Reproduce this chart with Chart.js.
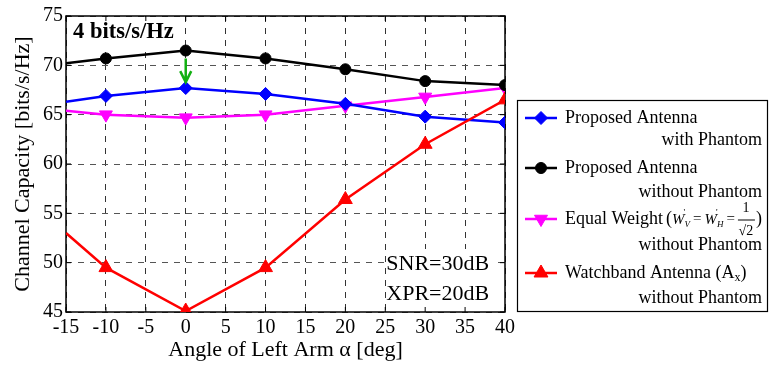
<!DOCTYPE html>
<html>
<head>
<meta charset="utf-8">
<script src="https://cdn.jsdelivr.net/npm/chart.js@4.4.0/dist/chart.umd.min.js"></script>
<style>
  html, body { margin: 0; padding: 0; background: #fff; }
  #wrap { width: 769px; height: 367px; position: relative; }
</style>
</head>
<body>
<div id="wrap"><canvas id="c"></canvas></div>
<script>
const FONT = '"Liberation Serif", "Times New Roman", serif';

// data
const angles = [-15, -10, 0, 10, 20, 30, 40];
const withPhantom    = [66.3, 66.9, 67.7, 67.1, 66.1, 64.8, 64.2];
const withoutPhantom = [70.2, 70.7, 71.5, 70.7, 69.6, 68.4, 68.0];
const equalWeight    = [65.4, 65.0, 64.7, 65.0, 65.9, 66.8, 67.7];
const watchband      = [53.0, 49.5, 45.1, 49.5, 56.4, 62.0, 66.5];

const xTicks = [-15, 40, 5];   // min, max, step
const yTicks = [45, 75, 5];

const legendFirst  = ['Proposed Antenna', 'Proposed Antenna', 'Equal Weight', 'Watchband Antenna'];
const legendSecond = ['with Phantom', 'without Phantom', 'without Phantom', 'without Phantom'];

const arrowAt = [0, 70.7, 68.3];   // x, y from, y to (green arrow)

const series = [
  { vals: withPhantom,    color: '#0000ff', style: 'rectRot',  r: 6.5, rot: 0 },
  { vals: withoutPhantom, color: '#000000', style: 'circle',   r: 5.5, rot: 0 },
  { vals: equalWeight,    color: '#ff00ff', style: 'triangle', r: 7.5, rot: 180 },
  { vals: watchband,      color: '#ff0000', style: 'triangle', r: 8,   rot: 0 }
];

function mkSet(s, i) {
  return {
    label: legendFirst[i],
    data: angles.map((a, k) => ({ x: a, y: s.vals[k] })),
    borderColor: s.color, backgroundColor: s.color,
    pointBackgroundColor: s.color, pointBorderColor: s.color,
    borderWidth: 2.5, tension: 0,
    pointStyle: s.style, pointRotation: s.rot,
    pointRadius: angles.map((a, k) => k === 0 ? 0 : s.r), pointBorderWidth: 1,
    pointHoverRadius: 0
  };
}

// first dataset in array is drawn on top
const drawOrder = [3, 1, 0, 2];
const datasets = drawOrder.map(i => mkSet(series[i], i));

function marker(ctx, s, x, y) {
  ctx.save();
  ctx.fillStyle = s.color; ctx.strokeStyle = s.color; ctx.lineWidth = 1;
  ctx.beginPath();
  if (s.style === 'circle') {
    ctx.arc(x, y, s.r, 0, Math.PI * 2);
  } else if (s.style === 'rectRot') {
    ctx.moveTo(x, y - s.r); ctx.lineTo(x + s.r, y); ctx.lineTo(x, y + s.r); ctx.lineTo(x - s.r, y);
  } else {
    const d = s.rot ? -1 : 1;
    ctx.moveTo(x, y - d * s.r);
    ctx.lineTo(x + s.r * 0.866, y + d * s.r * 0.5);
    ctx.lineTo(x - s.r * 0.866, y + d * s.r * 0.5);
  }
  ctx.closePath(); ctx.fill(); ctx.stroke();
  ctx.restore();
}

function txt(ctx, t, x, y, font, align) {
  ctx.font = font; ctx.textAlign = align || 'left';
  ctx.fillText(t, x, y);
  return ctx.measureText(t).width;
}

const decor = {
  id: 'decor',
  beforeDatasetsDraw(chart) {
    const { ctx, chartArea: a, scales: { x, y } } = chart;
    ctx.save();
    // white boxes behind the text notes (they hide the grid)
    ctx.fillStyle = '#fff';
    ctx.fillRect(a.left + 1, a.top + 1, 114, 30);
    ctx.fillRect(x.getPixelForValue(25) + 1, 249, 111, a.bottom - 249);
    ctx.strokeStyle = '#000'; ctx.lineWidth = 1.5;
    ctx.strokeRect(a.left, a.top, a.width, a.height);
    // inner tick marks
    ctx.lineWidth = 1;
    ctx.beginPath();
    for (let v = xTicks[0]; v <= xTicks[1]; v += xTicks[2]) {
      const px = x.getPixelForValue(v);
      ctx.moveTo(px, a.bottom); ctx.lineTo(px, a.bottom - 5);
      ctx.moveTo(px, a.top); ctx.lineTo(px, a.top + 5);
    }
    for (let v = yTicks[0]; v <= yTicks[1]; v += yTicks[2]) {
      const py = y.getPixelForValue(v);
      ctx.moveTo(a.left, py); ctx.lineTo(a.left + 5, py);
      ctx.moveTo(a.right, py); ctx.lineTo(a.right - 5, py);
    }
    ctx.stroke();
    ctx.restore();
  },
  afterDraw(chart) {
    const { ctx, chartArea: a, scales: { x, y } } = chart;
    ctx.save();
    ctx.fillStyle = '#000';
    ctx.textBaseline = 'middle';

    // annotations
    txt(ctx, '4 bits/s/Hz', a.left + 7, 32, 'bold 22.5px ' + FONT);
    txt(ctx, 'SNR=30dB', x.getPixelForValue(25) + 1, 264, '22px ' + FONT);
    txt(ctx, 'XPR=20dB', x.getPixelForValue(25) + 1, 294, '22px ' + FONT);

    // green arrow
    const ax = x.getPixelForValue(arrowAt[0]);
    const y0 = y.getPixelForValue(arrowAt[1]), y1 = y.getPixelForValue(arrowAt[2]);
    ctx.strokeStyle = '#12b012'; ctx.lineWidth = 2.5;
    ctx.beginPath();
    ctx.moveTo(ax, y0); ctx.lineTo(ax, y1);
    ctx.moveTo(ax - 5.5, y1 - 11); ctx.lineTo(ax, y1); ctx.lineTo(ax + 5.5, y1 - 11);
    ctx.stroke();

    // legend box
    const L = 517, T = 100, R = 768, B = 312;
    ctx.fillStyle = '#fff'; ctx.fillRect(L, T, R - L, B - T);
    ctx.strokeStyle = '#000'; ctx.lineWidth = 1.2;
    ctx.strokeRect(L + 0.5, T + 0.5, R - L - 1, B - T - 1);
    ctx.fillStyle = '#000';
    const rowY = [118, 168, 219, 273];
    const row2Y = [140, 192, 245, 298];
    const lf = '18px ' + FONT;
    series.forEach((s, i) => {
      const ry = rowY[i];
      ctx.strokeStyle = s.color; ctx.lineWidth = 2.5;
      ctx.beginPath(); ctx.moveTo(525, ry); ctx.lineTo(557, ry); ctx.stroke();
      marker(ctx, s, 541, ry);
      ctx.fillStyle = '#000';
      let px = 565;
      px += txt(ctx, legendFirst[i], px, ry, lf);
      if (i === 2) {
        const mi = 'italic 15px ' + FONT, ms = '9px ' + FONT, mis = 'italic 9px ' + FONT, mr = '15px ' + FONT;
        px += 3;
        px += txt(ctx, '(', px, ry, lf);
        px += txt(ctx, 'W', px, ry + 1, mi);
        txt(ctx, "'", px - 1, ry - 6, ms);
        px += txt(ctx, 'V', px, ry + 6, mis) + 3;
        px += txt(ctx, '=', px, ry, mr) + 3;
        px += txt(ctx, 'W', px, ry + 1, mi);
        txt(ctx, "'", px - 1, ry - 6, ms);
        px += txt(ctx, 'H', px, ry + 6, mis) + 3;
        px += txt(ctx, '=', px, ry, mr) + 2;
        // fraction 1/sqrt2
        txt(ctx, '1', px + 9, ry - 11, '14px ' + FONT, 'center');
        ctx.strokeStyle = '#000'; ctx.lineWidth = 1;
        ctx.beginPath(); ctx.moveTo(px + 1, ry + 1); ctx.lineTo(px + 18, ry + 1); ctx.stroke();
        txt(ctx, '√2', px + 9, ry + 12, '14px ' + FONT, 'center');
        px += 19;
        txt(ctx, ')', px, ry, lf);
      } else if (i === 3) {
        px += txt(ctx, ' (A', px, ry, lf);
        px += txt(ctx, 'x', px, ry + 5, '12px ' + FONT);
        txt(ctx, ')', px, ry, lf);
      }
      txt(ctx, legendSecond[i], 762, row2Y[i], lf, 'right');
    });
    ctx.restore();
  }
};

new Chart(document.getElementById('c'), {
  type: 'line',
  data: { datasets },
  options: {
    responsive: true, maintainAspectRatio: false, animation: false,
    events: [],
    layout: { padding: { left: 0, right: 264, top: 16, bottom: 0 } },
    plugins: { legend: { display: false }, tooltip: { enabled: false } },
    scales: {
      x: {
        type: 'linear', min: xTicks[0], max: xTicks[1],
        ticks: { stepSize: xTicks[2], padding: 4, autoSkip: false, maxRotation: 0, color: '#000', font: { family: FONT, size: 20 } },
        grid: { color: '#333', lineWidth: 1, drawTicks: false },
        border: { display: false, dash: [6, 6] },
        title: { display: true, text: 'Angle of Left Arm α [deg]', color: '#000', font: { family: FONT, size: 22 }, padding: { top: 0, bottom: 4 } },
        afterFit: s => { s.height = 55; }
      },
      y: {
        min: yTicks[0], max: yTicks[1],
        ticks: { stepSize: yTicks[2], padding: 3, color: '#000', font: { family: FONT, size: 20 } },
        grid: { color: '#555', lineWidth: 1, drawTicks: false },
        border: { display: false, dash: [6, 6] },
        title: { display: true, text: 'Channel Capacity [bits/s/Hz]', color: '#000', font: { family: FONT, size: 22 }, padding: { top: 10, bottom: 0 } },
        afterFit: s => { s.width = 66; }
      }
    }
  },
  plugins: [decor]
});
</script>
</body>
</html>
